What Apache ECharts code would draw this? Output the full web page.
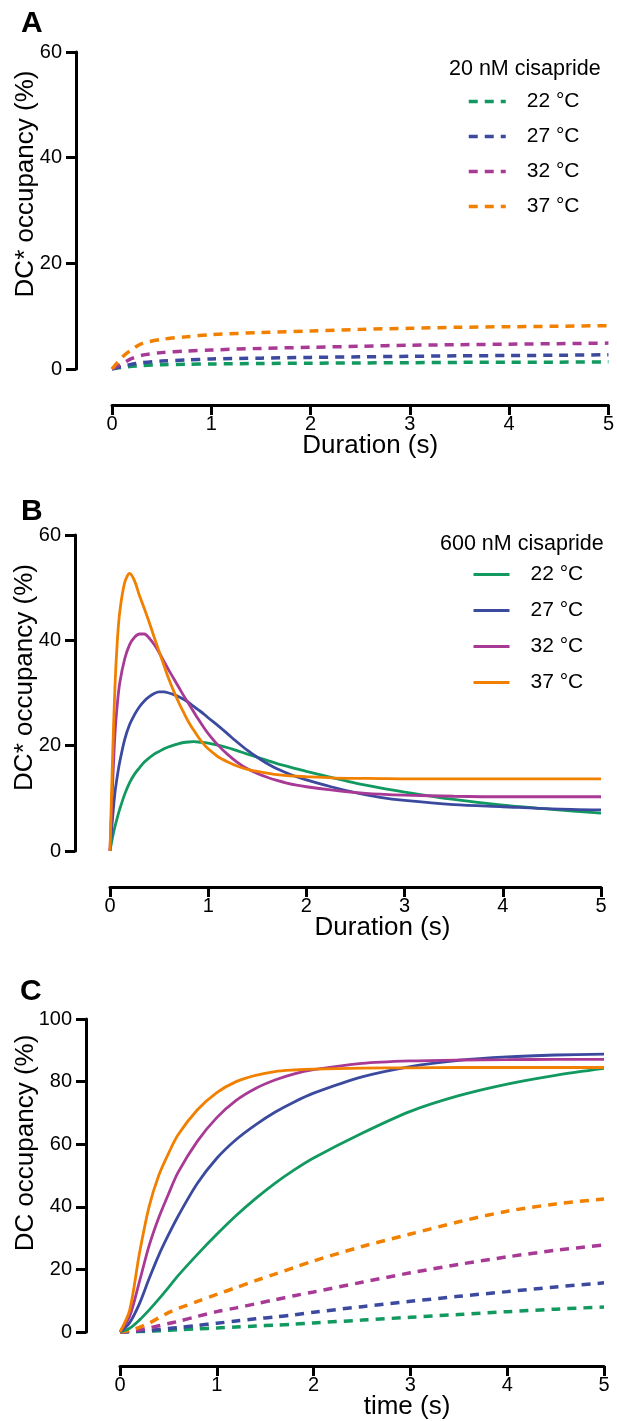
<!DOCTYPE html>
<html><head><meta charset="utf-8">
<script src="https://cdn.jsdelivr.net/npm/echarts@6/dist/echarts.min.js"></script>
<style>html,body{margin:0;padding:0;background:#fff}#c{width:617px;height:1421px}</style>
</head><body><div id="c"></div>
<script>
const temps = ['22 °C', '27 °C', '32 °C', '37 °C'];
const colors = ['#12995f', '#3b4a9e', '#a83a96', '#f28000'];
const xTicks = [0, 1, 2, 3, 4, 5];

// Panel A: 20 nM cisapride, DC* occupancy (%)
const tA = [0, 0.1, 0.2, 0.3, 0.5, 0.75, 1, 1.5, 2, 2.5, 3, 3.5, 4, 4.5, 5];
const A22 = [0, 0.3, 0.5, 0.65, 0.8, 0.9, 0.95, 1.05, 1.1, 1.15, 1.2, 1.25, 1.3, 1.3, 1.35];
const A27 = [0, 0.5, 0.9, 1.2, 1.5, 1.7, 1.9, 2.05, 2.2, 2.3, 2.4, 2.5, 2.55, 2.6, 2.7];
const A32 = [0, 1.0, 2.0, 2.6, 3.1, 3.4, 3.6, 3.9, 4.1, 4.3, 4.5, 4.6, 4.7, 4.8, 4.9];
const A37 = [0, 2.2, 3.7, 4.8, 5.6, 6.1, 6.5, 6.9, 7.2, 7.5, 7.7, 7.9, 8.0, 8.1, 8.2];

// Panel B: 600 nM cisapride, DC* occupancy (%)
const tB = [0, 0.025, 0.05, 0.075, 0.1,
  0.15, 0.2, 0.25, 0.3, 0.35, 0.4, 0.45, 0.5, 0.55, 0.6, 0.65, 0.7, 0.75, 0.8, 0.85, 0.9, 0.95, 1.0,
  1.1, 1.2, 1.3, 1.4, 1.5, 1.6, 1.7, 1.8, 1.9, 2.0,
  2.25, 2.5, 2.75, 3.0, 3.5, 4.0, 4.5, 5.0];
const B22 = [0, 2.5, 4.6, 6.4, 8,
  10.8, 13, 14.6, 15.8, 16.9, 17.7, 18.4, 18.9, 19.4, 19.8, 20.1, 20.4, 20.6, 20.7, 20.75, 20.7, 20.6, 20.5,
  20.1, 19.6, 19, 18.4, 17.8, 17.2, 16.6, 16.1, 15.6, 15.1,
  14, 12.9, 12, 11.2, 9.8, 8.7, 7.9, 7.2];
const B27 = [0, 6, 11, 14.3, 17,
  21.2, 24, 25.9, 27.4, 28.5, 29.3, 29.9, 30.2, 30.2, 30, 29.7, 29.3, 28.8, 28.2, 27.5, 26.8, 26.1, 25.3,
  23.8, 22.2, 20.6, 19.1, 17.8, 16.6, 15.6, 14.8, 14.1, 13.5,
  12.2, 11.1, 10.2, 9.6, 8.8, 8.4, 8.0, 7.8];
const B32 = [0, 12, 22, 28, 32,
  36.5, 39.2, 40.6, 41.2, 41.2, 40.4, 39.2, 37.7, 36, 34.3, 32.7, 31.1, 29.5, 28, 26.5, 25, 23.6, 22.3,
  20.1, 18.3, 16.8, 15.6, 14.7, 14.0, 13.4, 12.9, 12.5, 12.2,
  11.6, 11.1, 10.8, 10.6, 10.4, 10.3, 10.3, 10.3];
const B37 = [0, 17, 31, 40, 45.5,
  51, 52.7, 51.3, 48.5, 46, 43.4, 40.6, 37.9, 35.2, 32.6, 30.3, 28.2, 26.3, 24.5, 23, 21.6, 20.4, 19.4,
  17.9, 16.9, 16.1, 15.5, 15.1, 14.8, 14.5, 14.3, 14.2, 14.1,
  13.9, 13.8, 13.75, 13.7, 13.7, 13.7, 13.7, 13.7];

// Panel C: DC occupancy (%), solid = 600 nM, dashed = 20 nM
const tC = [0, 0.1, 0.2, 0.3, 0.4, 0.5, 0.6, 0.8, 1.0, 1.2, 1.4, 1.6, 1.8, 2.0, 2.5, 3.0, 3.5, 4.0, 4.5, 5.0];
const C22s = [0, 1.2, 3.8, 7, 10.5, 14.2, 18, 24.8, 31.2, 37.2, 42.6, 47.5, 51.8, 55.6, 63.5, 70.5, 75.5, 79.2, 82, 84.2];
const C27s = [0, 3, 9, 17, 24.5, 31, 37, 47.5, 55.5, 61.5, 66.2, 70.2, 73.5, 76.3, 81.5, 84.8, 86.8, 87.9, 88.5, 88.8];
const C32s = [0, 5, 16, 27.5, 36.5, 44, 51, 61, 68.5, 74, 77.8, 80.5, 82.5, 83.8, 85.8, 86.6, 86.9, 87, 87.1, 87.1];
const C37s = [0, 7, 25, 40, 50, 57, 63, 71, 76.5, 80, 82, 83.2, 83.7, 84, 84.3, 84.4, 84.5, 84.5, 84.5, 84.5];
const C22d = [0, 0.05, 0.15, 0.25, 0.4, 0.55, 0.7, 1.0, 1.3, 1.6, 1.9, 2.2, 2.5, 2.9, 3.8, 4.7, 5.6, 6.5, 7.3, 8.0];
const C27d = [0, 0.1, 0.3, 0.5, 0.8, 1.1, 1.4, 2.1, 2.8, 3.5, 4.2, 4.8, 5.5, 6.3, 8.1, 9.8, 11.4, 12.9, 14.4, 15.7];
const C32d = [0, 0.2, 0.7, 1.3, 2.0, 2.7, 3.4, 5.0, 6.5, 7.7, 9.0, 10.3, 11.6, 12.8, 15.9, 18.9, 21.6, 24.0, 26.1, 27.8];
const C37d = [0, 0.5, 1.5, 2.8, 4.5, 6.2, 7.5, 9.8, 12, 14.2, 16.4, 18.5, 20.6, 22.7, 27.3, 31.3, 35.2, 38.6, 40.9, 42.5];

const FONT = '"Liberation Sans", Arial, Helvetica, sans-serif';
const DASH = [9, 7];

function zip(t, v) { return t.map((x, i) => [x, v[i]]); }

function mkSeries(name, idx, t, v, dashed, colorIdx) {
  return {
    name: name, type: 'line', xAxisIndex: idx, yAxisIndex: idx,
    data: zip(t, v), showSymbol: false, symbol: 'none',
    smooth: 0.3,
    z: dashed ? 2 : 3,
    lineStyle: { color: colors[colorIdx], width: dashed ? 3.5 : 2.8, type: dashed ? DASH : 'solid' },
    itemStyle: { color: colors[colorIdx] },
    emphasis: { disabled: true }
  };
}

function xAx(idx, off, name, shift) {
  return {
    type: 'value', gridIndex: idx, min: 0, max: 5, interval: 1, offset: off,
    axisLine: { show: true, onZero: false, lineStyle: { color: '#000', width: 3 } },
    axisTick: { show: true, length: 10, lineStyle: { color: '#000', width: 3 } },
    axisLabel: { fontSize: 20, color: '#000', fontFamily: FONT, margin: 9,
      customValues: xTicks },
    splitLine: { show: false },
    name: name, nameLocation: 'middle', nameGap: 28, nameMoveOverlap: false,
    nameTextStyle: { fontSize: 26, color: '#000', fontFamily: FONT, padding: [0, 0, 0, shift] }
  };
}
function yAx(idx, off, max, name, gap, shift) {
  return {
    type: 'value', gridIndex: idx, min: 0, max: max, interval: 20, offset: off,
    axisLine: { show: true, onZero: false, lineStyle: { color: '#000', width: 3 } },
    axisTick: { show: true, length: 10, lineStyle: { color: '#000', width: 3 } },
    axisLabel: { fontSize: 20, color: '#000', fontFamily: FONT, margin: 14 },
    splitLine: { show: false },
    name: name, nameLocation: 'middle', nameGap: gap, nameRotate: 90, nameMoveOverlap: false,
    nameTextStyle: { fontSize: 26, color: '#000', fontFamily: FONT, padding: [0, 0, 0, shift] }
  };
}

const Avals = [A22, A27, A32, A37];
const Bvals = [B22, B27, B32, B37];
const Csol = [C22s, C27s, C32s, C37s];
const Cdash = [C22d, C27d, C32d, C37d];

const series = [];
temps.forEach((tp, i) => series.push(mkSeries('A|' + tp, 0, tA, Avals[i], true, i)));
temps.forEach((tp, i) => series.push(mkSeries('B|' + tp, 1, tB, Bvals[i], false, i)));
temps.forEach((tp, i) => series.push(mkSeries('Cd|' + tp, 2, tC, Cdash[i], true, i)));
temps.forEach((tp, i) => series.push(mkSeries('Cs|' + tp, 2, tC, Csol[i], false, i)));

const legendText = n => n.split('|')[1];

const option = {
  animation: false,
  backgroundColor: '#fff',
  textStyle: { fontFamily: FONT },
  title: [
    { text: 'A', left: 21, top: 9, padding: 0, textStyle: { fontSize: 30, fontWeight: 'bold', color: '#000', fontFamily: FONT } },
    { text: 'B', left: 21, top: 497, padding: 0, textStyle: { fontSize: 30, fontWeight: 'bold', color: '#000', fontFamily: FONT } },
    { text: 'C', left: 20, top: 977, padding: 0, textStyle: { fontSize: 30, fontWeight: 'bold', color: '#000', fontFamily: FONT } },
    { text: '20 nM cisapride', left: 449, top: 58, padding: 0, textStyle: { fontSize: 21.5, fontWeight: 'normal', color: '#000', fontFamily: FONT } },
    { text: '600 nM cisapride', left: 440, top: 533, padding: 0, textStyle: { fontSize: 21.5, fontWeight: 'normal', color: '#000', fontFamily: FONT } }
  ],
  legend: [
    { data: temps.map(t => 'A|' + t), orient: 'vertical', left: 467, top: 91, padding: 0,
      itemWidth: 37, itemHeight: 14, itemGap: 14, formatter: legendText,
      lineStyle: { width: 3.5 }, itemStyle: { opacity: 0 }, selectedMode: false,
      textStyle: { fontSize: 21, color: '#000', fontFamily: FONT, padding: [0, 0, 0, 16] } },
    { data: temps.map(t => 'B|' + t), orient: 'vertical', left: 472, top: 564, padding: 0,
      itemWidth: 36, itemHeight: 14, itemGap: 15, formatter: legendText,
      lineStyle: { width: 3 }, itemStyle: { opacity: 0 }, selectedMode: false,
      textStyle: { fontSize: 21, color: '#000', fontFamily: FONT, padding: [0, 0, 0, 16] } }
  ],
  grid: [
    { left: 112, width: 497, top: 52, height: 317 },
    { left: 110, width: 491, top: 535, height: 316 },
    { left: 120, width: 484, top: 1019, height: 313 }
  ],
  xAxis: [
    xAx(0, 36, 'Duration (s)', 20),
    xAx(1, 36, 'Duration (s)', 54),
    xAx(2, 34, 'time (s)', 90)
  ],
  yAxis: [
    yAx(0, 36, 60, 'DC* occupancy (%)', 37, 53),
    yAx(1, 35, 60, 'DC* occupancy (%)', 37, 31),
    yAx(2, 34, 100, 'DC occupancy (%)', 47, 65)
  ],
  series: series
};

const chart = echarts.init(document.getElementById('c'), null, { renderer: 'canvas' });
chart.setOption(option);
</script>
</body></html>
